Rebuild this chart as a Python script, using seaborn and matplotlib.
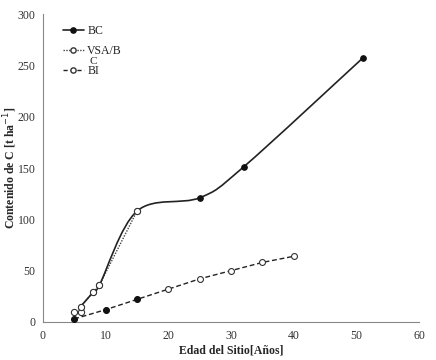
import matplotlib.pyplot as plt
import numpy as np
import pandas as pd
import seaborn as sns
from matplotlib.lines import Line2D
from matplotlib.patches import PathPatch
from matplotlib.path import Path

# BC (solid, smoothed)
bc_age = [6, 8, 9, 15, 25, 32, 51]
bc_carbon = [15, 29, 36, 108, 121, 151, 257]

# VSA/BC (dotted, open markers)
vsa_age = [5, 6, 6, 8, 9, 15]
vsa_carbon = [10, 10, 15, 29, 36, 108]

# BI (dashed)
bi_age = [5, 10, 15, 20, 25, 30, 35, 40]
bi_carbon = [3, 12, 22, 32, 42, 50, 58, 64]
bi_filled = [True, True, True, False, False, False, False, False]

X_TICKS = [0, 10, 20, 30, 40, 50, 60]
Y_TICKS = [0, 50, 100, 150, 200, 250, 300]


def _smooth_path(xs, ys) -> Path:
    # Excel-style smoothed line: cubic bezier segments between the points
    pts = np.column_stack([xs, ys]).astype(float)
    verts = [pts[0]]
    codes = [Path.MOVETO]
    n = len(pts)
    for i in range(n - 1):
        p0 = pts[max(i - 1, 0)]
        p1 = pts[i]
        p2 = pts[i + 1]
        p3 = pts[min(i + 2, n - 1)]
        c1 = p1 + (p2 - p0) / 6.0
        c2 = p2 - (p3 - p1) / 6.0
        verts += [c1, c2, p2]
        codes += [Path.CURVE4] * 3
    return Path(verts, codes)


def _plot() -> None:
    sns.set_theme(style="white")
    plt.rcParams["font.family"] = ["Liberation Serif", "DejaVu Serif"]

    fig = plt.figure(figsize=(4.36, 3.6), dpi=100)
    ax = fig.add_axes([0.0986, 0.1056, 0.8624, 0.8554])

    bi = pd.DataFrame({"age": bi_age, "carbon": bi_carbon, "filled": bi_filled})
    vsa = pd.DataFrame({"age": vsa_age, "carbon": vsa_carbon})
    bc = pd.DataFrame({"age": bc_age, "carbon": bc_carbon})

    # BI dashed line
    sns.lineplot(data=bi, x="age", y="carbon", ax=ax, color="#222222", lw=1.0,
                 linestyle=(0, (3.5, 2)), sort=False, estimator=None, zorder=2)
    sns.scatterplot(data=bi[bi["filled"]], x="age", y="carbon", ax=ax, color="#111111",
                    edgecolor="#111111", s=18, linewidth=0.8, zorder=4)
    sns.scatterplot(data=bi[~bi["filled"]], x="age", y="carbon", ax=ax, color="white",
                    edgecolor="#333333", s=18, linewidth=0.8, zorder=4)

    # VSA/BC dotted line
    sns.lineplot(data=vsa, x="age", y="carbon", ax=ax, color="#444444", lw=1.0,
                 linestyle=(0, (1, 1)), sort=False, estimator=None, zorder=2)

    # BC smoothed solid line
    ax.add_patch(PathPatch(_smooth_path(bc_age, bc_carbon), facecolor="none",
                           edgecolor="#222222", lw=1.2, zorder=3))
    sns.scatterplot(data=bc, x="age", y="carbon", ax=ax, color="#111111",
                    edgecolor="#111111", s=16, linewidth=0.8, zorder=4)
    sns.scatterplot(data=vsa, x="age", y="carbon", ax=ax, color="white",
                    edgecolor="#333333", s=20, linewidth=0.8, zorder=5)

    ax.set_xlim(0, 60)
    ax.set_ylim(0, 300)
    ax.set_xticks(X_TICKS)
    ax.set_yticks(Y_TICKS)
    ax.tick_params(axis="both", labelsize=8.5, colors="#333333", length=4,
                   width=0.8, color="#888888", direction="out", pad=1.5)
    for side in ["top", "right"]:
        ax.spines[side].set_visible(False)
    for side in ["left", "bottom"]:
        ax.spines[side].set_color("#888888")
        ax.spines[side].set_linewidth(0.8)

    ax.set_xlabel("Edad del Sitio[Años]", fontsize=8.5, fontweight="bold", labelpad=2)
    ax.set_ylabel("Contenido de C [t ha$^{-1}$]", fontsize=8.5, fontweight="bold")
    ax.yaxis.set_label_coords(-0.064, 0.5)

    handles = [
        Line2D([], [], color="#222222", lw=1.2, marker="o", ms=3.8,
               markerfacecolor="#111111", markeredgecolor="#111111"),
        Line2D([], [], color="#444444", lw=1.0, linestyle=(0, (1, 1)), marker="o", ms=3.8,
               markerfacecolor="white", markeredgecolor="#333333"),
        Line2D([], [], color="#222222", lw=1.0, linestyle=(0, (3, 2)), marker="o", ms=3.8,
               markerfacecolor="white", markeredgecolor="#333333"),
    ]
    leg = ax.legend(handles, ["BC", "VSA/B", "BI"], loc="upper left",
                    bbox_to_anchor=(0.03, 0.992), frameon=False, fontsize=8.5,
                    handlelength=1.8, handletextpad=0.3, labelspacing=0.7,
                    borderpad=0.2)
    # wrapped remainder of the "VSA/BC" label
    fig.text(89 / 436, 1 - 61 / 360, "C", fontsize=8, ha="left", va="center",
             color="#222222")
    for t in leg.get_texts():
        t.set_color("#222222")

    fig.savefig("out.png", dpi=100)
    plt.close(fig)


if __name__ == "__main__":
    _plot()
